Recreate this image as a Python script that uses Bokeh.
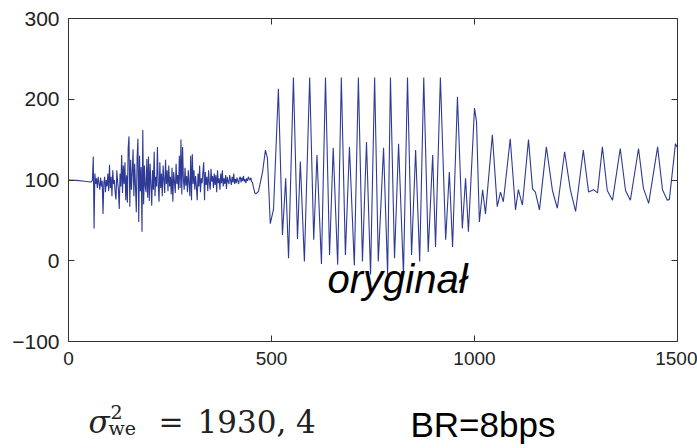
from bokeh.plotting import figure
from bokeh.models import Range1d, FixedTicker, LinearAxis, Label
from bokeh.layouts import column
from bokeh.embed import file_html
from bokeh.resources import INLINE

# ---- data ----
x_ticks = [0, 500, 1000, 1500]
y_ticks = [-100, 0, 100, 200, 300]
y_tick_labels = {-100: "\u2212100", 0: "0", 100: "100", 200: "200", 300: "300"}

flat_x = [0, 20, 40, 54]
flat_y = [100, 99.5, 98.5, 97.5]

noise_start = 57
noise_step = 2
noise_y = [98, 100, 129, 40, 108, 95, 102, 90, 104, 96,
           88, 103, 92, 99, 58, 96, 104, 85, 100, 92,
           108, 86, 119, 90, 104, 80, 112, 95, 100, 84,
           76, 112, 98, 88, 64, 108, 92, 131, 84, 118,
           95, 122, 75, 106, 72, 140, 154, 67, 125, 88,
           110, 138, 80, 120, 92, 60, 128, 151, 48, 130,
           86, 116, 36, 162, 70, 118, 92, 85, 126, 78,
           129, 74, 120, 95, 68, 112, 88, 135, 80, 104,
           92, 141, 94, 73, 122, 90, 108, 80, 118, 100,
           84, 125, 95, 112, 86, 118, 92, 104, 82, 115,
           73, 110, 98, 84, 120, 95, 106, 88, 130, 90,
           150, 82, 141, 100, 88, 115, 93, 105, 85, 112,
           96, 80, 130, 75, 132, 95, 112, 88, 105, 92,
           75, 108, 92, 118, 85, 102, 96, 110, 122, 75,
           110, 94, 104, 86, 112, 96, 88, 114, 98, 105,
           90, 108, 94, 106, 85, 112, 96, 102, 88, 108,
           96, 112, 92, 102, 95, 106, 89, 104, 98, 95,
           106, 100, 94, 104, 97, 108, 95, 101, 96, 103,
           99, 95, 102, 104, 97, 103, 99, 105, 98, 101,
           96, 102, 99, 104, 101, 100, 103, 98, 97, 92,
           88, 84]

osc_x = [462, 468, 478, 485, 490, 497, 505, 517, 527, 535, 542, 554, 564, 571, 581, 594,
         604, 612, 623, 633, 643, 652, 663, 672, 682, 692, 704, 714, 724, 734, 744, 754,
         763, 776, 786, 793, 803, 813, 825, 835, 845, 855, 865, 875, 886, 897, 904, 916,
         929, 938, 946, 958, 970, 978, 985, 1000, 1005, 1012, 1020, 1027, 1044, 1056, 1064,
         1071, 1088, 1101, 1108, 1118, 1133, 1143, 1150, 1160, 1177, 1192, 1204, 1222, 1236,
         1249, 1268, 1281, 1293, 1303, 1315, 1327, 1340, 1359, 1372, 1384, 1404, 1416, 1429,
         1451, 1463, 1475, 1480, 1495, 1500]
osc_y = [83, 86, 110, 137, 127, 46, 64, 213, 32, 102, 3, 227, 27, 123, -1, 227,
         26, 131, -4, 227, 7, 140, -5, 227, 7, 141, -6, 227, -1, 147, -17, 227,
         -1, 140, -17, 227, 3, 145, -17, 227, 7, 137, -1, 227, 11, 131, 17, 227,
         26, 110, 17, 203, 40, 102, 36, 189, 172, 48, 88, 58, 156, 67, 85,
         73, 151, 63, 88, 69, 150, 89, 85, 63, 141, 87, 65, 135, 88,
         61, 137, 85, 88, 84, 141, 87, 75, 139, 87, 75, 139, 90, 71,
         141, 88, 75, 76, 145, 140]

noise_x = list(range(noise_start, noise_start + noise_step * len(noise_y), noise_step))
sig_x = flat_x + noise_x + osc_x
sig_y = flat_y + noise_y + osc_y

# ---- main figure ----
H1 = 385
p = figure(width=697, height=H1, output_backend="svg", toolbar_location=None,
           x_range=Range1d(0, 1500), y_range=Range1d(-100, 300),
           min_border_left=68, min_border_right=20, min_border_top=18,
           min_border_bottom=H1 - 341)
p.background_fill_color = "white"
p.border_fill_color = "white"
p.outline_line_color = "#333333"
p.xgrid.visible = False
p.ygrid.visible = False

p.line(sig_x, sig_y, line_color="#2E3A96", line_width=1.1)

AX = "#333333"
for ax in (p.xaxis[0], p.yaxis[0]):
    ax.axis_line_color = AX
    ax.major_tick_line_color = AX
    ax.major_tick_in = 6
    ax.major_tick_out = 0
    ax.minor_tick_line_color = None
    ax.major_label_text_color = "#222222"
    ax.major_label_text_font = "Liberation Sans"

p.xaxis.ticker = FixedTicker(ticks=x_ticks)
p.xaxis.major_label_text_font_size = "19px"
p.xaxis.major_label_standoff = 10
p.yaxis.ticker = FixedTicker(ticks=y_ticks)
p.yaxis.major_label_overrides = y_tick_labels
p.yaxis.major_label_text_font_size = "21px"
p.yaxis.major_label_standoff = 9

right = LinearAxis(ticker=FixedTicker(ticks=y_ticks), major_tick_in=6, major_tick_out=0,
                   minor_tick_line_color=None, axis_line_color=AX, major_tick_line_color=AX,
                   major_label_text_font_size="1px", major_label_text_color=None,
                   major_label_standoff=0)
top = LinearAxis(ticker=FixedTicker(ticks=x_ticks), major_tick_in=6, major_tick_out=0,
                 minor_tick_line_color=None, axis_line_color=AX, major_tick_line_color=AX,
                 major_label_text_font_size="1px", major_label_text_color=None,
                 major_label_standoff=0)
p.add_layout(right, "right")
p.add_layout(top, "above")

p.add_layout(Label(x=638, y=-23, text="oryginał", text_font="Liberation Sans",
                   text_font_style="italic", text_font_size="40px", text_color="black",
                   text_baseline="alphabetic"))

# ---- caption strip below (page-pixel x, y downwards from strip top) ----
H2 = 448 - H1
c = figure(width=697, height=H2, output_backend="svg", toolbar_location=None,
           x_range=Range1d(68, 677), y_range=Range1d(H2, 0),
           x_axis_type=None, y_axis_type=None,
           min_border_left=68, min_border_right=20, min_border_top=0, min_border_bottom=0)
c.outline_line_color = None
c.xgrid.visible = False
c.ygrid.visible = False
c.background_fill_color = "white"
c.border_fill_color = "white"

SERIF = "DejaVu Serif"
INK = "#222222"
c.add_layout(Label(x=88, y=36, text="σ", text_font=SERIF, text_font_style="italic",
                   text_font_size="31px", text_color=INK, text_baseline="alphabetic"))
c.add_layout(Label(x=110, y=26, text="2", text_font=SERIF, text_font_size="19px",
                   text_color=INK, text_baseline="alphabetic"))
c.add_layout(Label(x=108, y=42, text="we", text_font=SERIF, text_font_size="19px",
                   text_color=INK, text_baseline="alphabetic"))
c.add_layout(Label(x=158, y=36, text="=", text_font=SERIF, text_font_size="30px",
                   text_color=INK, text_baseline="alphabetic"))
c.add_layout(Label(x=197, y=36, text="1930, 4", text_font=SERIF, text_font_size="31px",
                   text_color=INK, text_baseline="alphabetic"))
c.add_layout(Label(x=410, y=39, text="BR=8bps", text_font="Liberation Sans",
                   text_font_size="35px", text_color="black", text_baseline="alphabetic"))

layout = column(p, c, spacing=0)
open("out.html", "w").write(file_html(layout, INLINE))
